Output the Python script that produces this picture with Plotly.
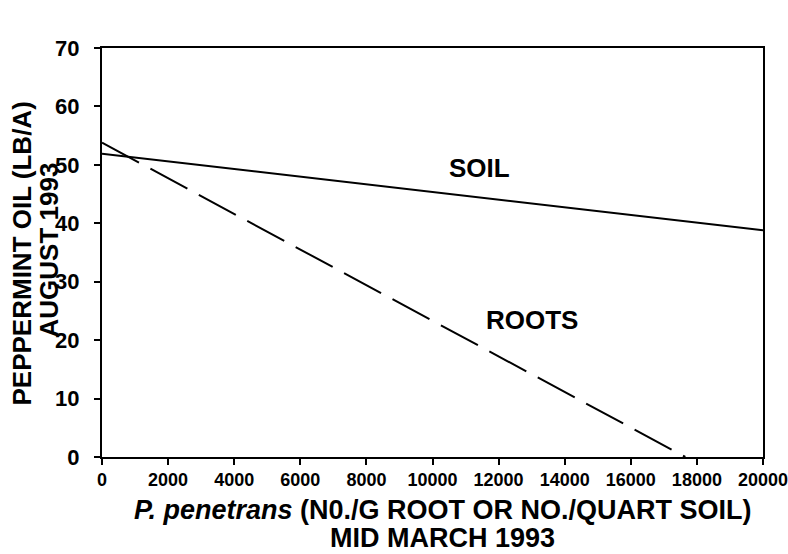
import plotly.graph_objects as go

# Data
soil_x = [0, 20000]
soil_y = [51.9, 38.8]
roots_x = [0, 17650]
roots_y = [53.8, 0]

x_ticks = [0, 2000, 4000, 6000, 8000, 10000, 12000, 14000, 16000, 18000, 20000]
y_ticks = [0, 10, 20, 30, 40, 50, 60, 70]

FONT = "Liberation Sans, Arial, sans-serif"

fig = go.Figure()
fig.add_trace(go.Scatter(x=soil_x, y=soil_y, mode="lines",
                         line=dict(color="black", width=2), name="SOIL",
                         showlegend=False))
fig.add_trace(go.Scatter(x=roots_x, y=roots_y, mode="lines",
                         line=dict(color="black", width=2, dash="42px,13px"),
                         name="ROOTS", showlegend=False))

fig.update_layout(
    width=788, height=554,
    margin=dict(l=102, r=25, t=48, b=97, autoexpand=False),
    paper_bgcolor="white", plot_bgcolor="white",
    font=dict(family=FONT, color="black"),
    xaxis=dict(range=[0, 20000], tickvals=x_ticks,
               ticktext=[str(v) for v in x_ticks],
               showgrid=False, zeroline=False,
               showline=True, mirror=True, linecolor="black", linewidth=2,
               ticks="outside", ticklen=6, tickwidth=2, tickcolor="black",
               ticklabelstandoff=-1, ticklabeloverflow="allow",
               tickfont=dict(family=FONT, size=18, color="black", weight="bold")),
    yaxis=dict(range=[0, 70], tickvals=y_ticks,
               showgrid=False, zeroline=False,
               showline=True, mirror=True, linecolor="black", linewidth=2,
               ticks="outside", ticklen=6, tickwidth=2, tickcolor="black",
               ticklabelstandoff=10, ticklabeloverflow="allow",
               tickfont=dict(family=FONT, size=22, color="black", weight="bold")),
    annotations=[
        dict(x=11437, y=49.5, xref="x", yref="y", text="<b>SOIL</b>",
             showarrow=False, font=dict(family=FONT, size=26, color="black")),
        dict(x=13010, y=23.4, xref="x", yref="y", text="<b>ROOTS</b>",
             showarrow=False, font=dict(family=FONT, size=26, color="black")),
        dict(x=0, y=0.5, xref="paper", yref="paper", xshift=-81, yshift=-1,
             xanchor="center", yanchor="middle",
             text="<b>PEPPERMINT OIL (LB/A)</b>", textangle=-90,
             showarrow=False, font=dict(family=FONT, size=26, color="black")),
        dict(x=0, y=0.5, xref="paper", yref="paper", xshift=-54, yshift=2,
             xanchor="center", yanchor="middle",
             text="<b>AUGUST 1993</b>", textangle=-90,
             showarrow=False, font=dict(family=FONT, size=26, color="black")),
        dict(x=0.5, y=0, xref="paper", yref="paper", xshift=10, yshift=-53,
             xanchor="center", yanchor="middle",
             text="<b><i>P. penetrans</i> (N0./G ROOT OR NO./QUART SOIL)</b>",
             showarrow=False, font=dict(family=FONT, size=27, color="black")),
        dict(x=0.5, y=0, xref="paper", yref="paper", xshift=10, yshift=-81,
             xanchor="center", yanchor="middle",
             text="<b>MID MARCH 1993</b>",
             showarrow=False, font=dict(family=FONT, size=27, color="black")),
    ],
)

fig.write_html("out.html", config={"displayModeBar": False},
               post_script="document.body.style.margin='0';document.body.style.padding='0';")
